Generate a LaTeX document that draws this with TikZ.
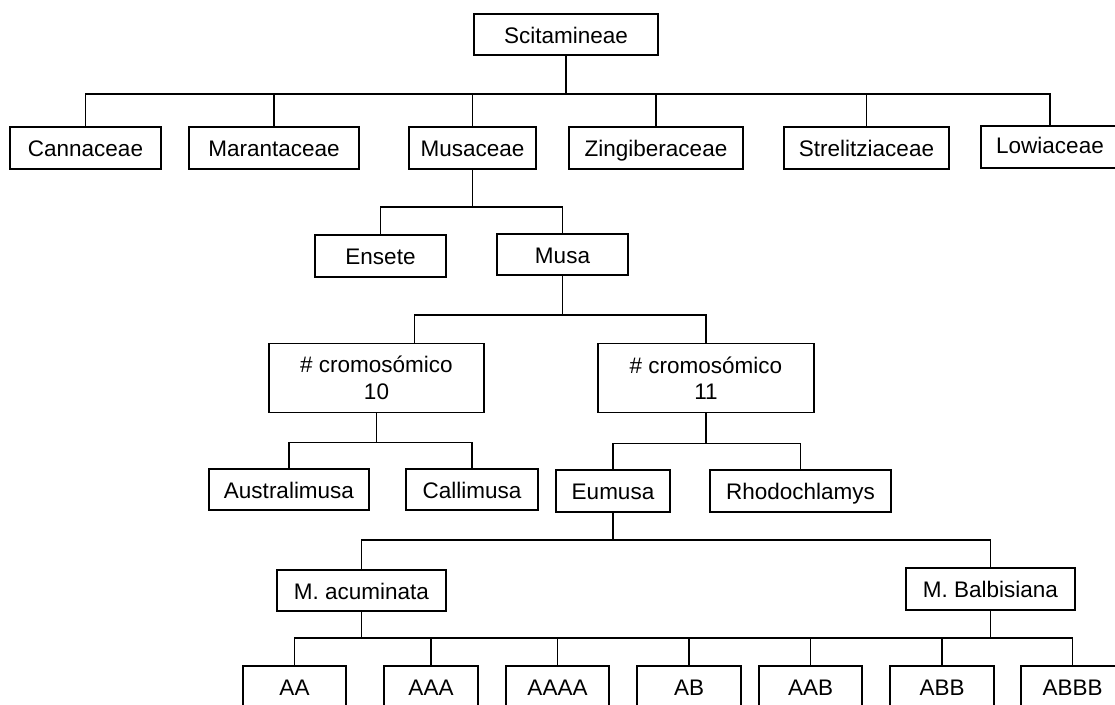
\documentclass[tikz,border=0pt]{standalone}
\usepackage{fontspec}
\setmainfont{Liberation Sans}
\begin{document}
\begin{tikzpicture}[x=1pt, y=-1pt,
    taxon/.style={draw, line width=1.7pt, inner sep=0pt, minimum height=42,
        text height=17, text depth=0, align=center,
        font=\fontsize{22.5}{26.5}\selectfont},
    twoline/.style={taxon, text height=, text depth=, minimum height=69},
    link/.style={line width=1.6pt}]
    \useasboundingbox (0,0) rectangle (1115,704);

    % the order
    \node[taxon, minimum width=184, minimum height=41] (scit) at (566,34.5) {Scitamineae};

    % the families
    \node[taxon, minimum width=151] (cann) at (85.5,148) {Cannaceae};
    \node[taxon, minimum width=170] (mara) at (274,148) {Marantaceae};
    \node[taxon, minimum width=127] (musc) at (472.5,148) {Musaceae};
    \node[taxon, minimum width=174] (zing) at (656,148) {Zingiberaceae};
    \node[taxon, minimum width=165] (stre) at (866.5,148) {Strelitziaceae};
    \node[taxon, minimum width=138, text height=12] (lowi) at (1050,147) {Lowiaceae};

    % the genera
    \node[taxon, minimum width=131] (ense) at (380.5,256) {Ensete};
    \node[taxon, minimum width=131, minimum height=41] (musa) at (562.5,254.5) {Musa};

    % chromosome numbers
    \node[twoline, minimum width=215] (c10) at (376.5,378) {\# cromosómico\\10};
    \node[twoline, minimum width=216] (c11) at (706,378) {\# cromosómico\\11};

    % the sections
    \node[taxon, minimum width=160, minimum height=41] (aust) at (289,489.5) {Australimusa};
    \node[taxon, minimum width=132, minimum height=41] (call) at (472,489.5) {Callimusa};
    \node[taxon, minimum width=114] (eumu) at (613,491) {Eumusa};
    \node[taxon, minimum width=181] (rhod) at (800.5,491) {Rhodochlamys};

    % the species
    \node[taxon, minimum width=169, minimum height=41] (acum) at (361.5,590.5) {M. acuminata};
    \node[taxon, minimum width=169] (balb) at (990.5,589) {M. Balbisiana};

    % the genome groups
    \node[taxon, minimum width=103] (aa) at (294.5,687) {AA};
    \node[taxon, minimum width=94] (aaa) at (431,687) {AAA};
    \node[taxon, minimum width=103] (aaaa) at (557.5,687) {AAAA};
    \node[taxon, minimum width=104] (ab) at (689,687) {AB};
    \node[taxon, minimum width=103] (aab) at (810.5,687) {AAB};
    \node[taxon, minimum width=104] (abb) at (942,687) {ABB};
    \node[taxon, minimum width=103] (abbb) at (1072.5,687) {ABBB};

    % the connectors
    \foreach \k in {cann,mara,musc,zing,stre,lowi}
        \draw[link] (scit.south) -- ++(0,38) -| (\k.north);
    \foreach \k in {ense,musa}
        \draw[link] (musc.south) -- ++(0,37) -| (\k.north);
    \draw[link] (musa.south) -- ++(0,39) -| ([xshift=38pt]c10.north);
    \draw[link] (musa.south) -- ++(0,39) -| (c11.north);
    \foreach \k in {aust,call}
        \draw[link] (c10.south) -- ++(0,29) -| (\k.north);
    \foreach \k in {eumu,rhod}
        \draw[link] (c11.south) -- ++(0,30) -| (\k.north);
    \foreach \k in {acum,balb}
        \draw[link] (eumu.south) -- ++(0,27) -| (\k.north);
    \foreach \k in {aa,aaa,aaaa,ab}
        \draw[link] (acum.south) -- ++(0,26) -| (\k.north);
    \foreach \k in {ab,aab,abb,abbb}
        \draw[link] (balb.south) -- ++(0,27) -| (\k.north);
\end{tikzpicture}
\end{document}
